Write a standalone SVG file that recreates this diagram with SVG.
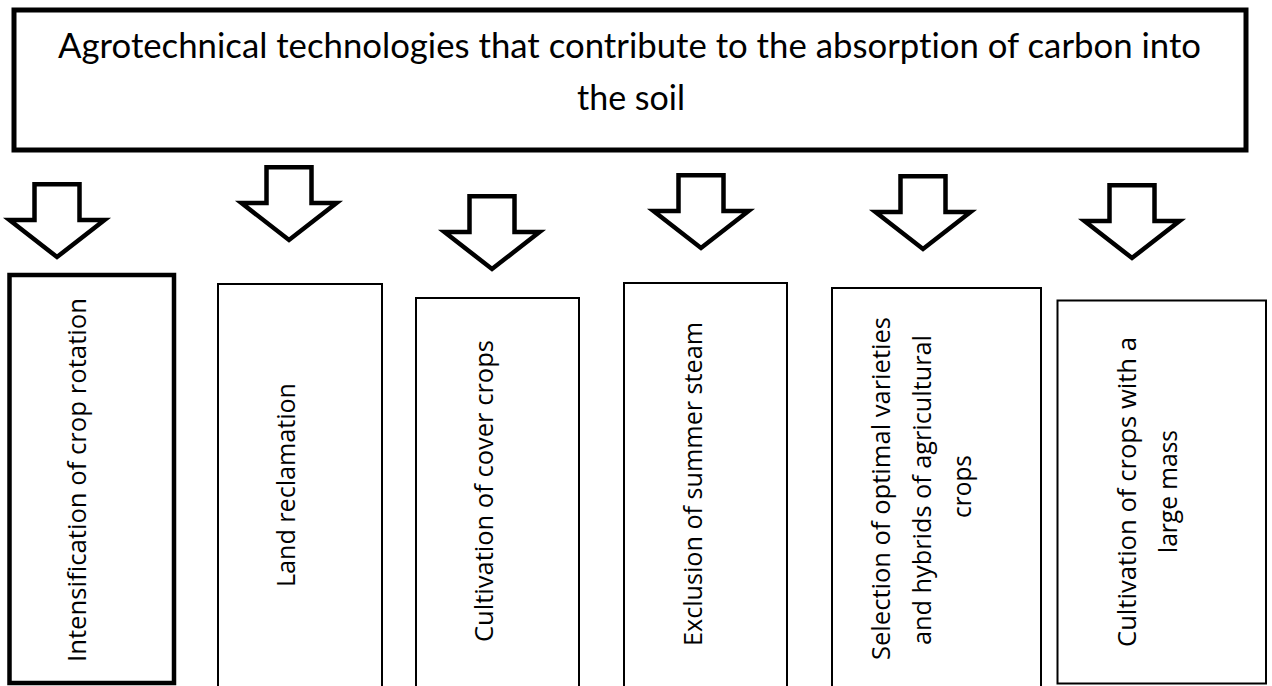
<svg xmlns="http://www.w3.org/2000/svg" xmlns:xlink="http://www.w3.org/1999/xlink" width="1272" height="686" viewBox="0 0 1272 686">
  <style>
    .title { font-family: Lato, "Open Sans", "Liberation Sans", sans-serif; font-size: 34px; fill: #000; text-anchor: middle; font-variant-ligatures: none; }
    .lbl { font-family: "Open Sans", "Noto Sans", "Liberation Sans", sans-serif; font-size: 26px; fill: #000; text-anchor: middle; font-variant-ligatures: none; }
    .box { fill: #fff; stroke: #000; stroke-width: 2; }
    .thick { stroke-width: 4.5; }
    .arrow { fill: #fff; stroke: #000; stroke-width: 4.5; stroke-linejoin: miter; stroke-miterlimit: 10; }
  </style>
  <defs>
    <path id="blockArrow" d="M -22.5 2.25 H 22.5 V 38 H 47.5 L 0 75 L -47.5 38 H -22.5 Z"/>
  </defs>
  <rect width="1272" height="686" fill="#fff"/>

  <g id="node-title">
    <rect x="14" y="10" width="1232" height="140" fill="#fff" stroke="#000" stroke-width="5"/>
    <text class="title" x="629.5" y="58" textLength="1143" lengthAdjust="spacingAndGlyphs">Agrotechnical technologies that contribute to the absorption of carbon into</text>
    <text class="title" x="631" y="110" textLength="108" lengthAdjust="spacingAndGlyphs">the soil</text>
  </g>

  <g id="connectors">
    <use xlink:href="#blockArrow" href="#blockArrow" class="arrow" x="57" y="182"/>
    <use xlink:href="#blockArrow" href="#blockArrow" class="arrow" x="289" y="165"/>
    <use xlink:href="#blockArrow" href="#blockArrow" class="arrow" x="492" y="194"/>
    <use xlink:href="#blockArrow" href="#blockArrow" class="arrow" x="701" y="173"/>
    <use xlink:href="#blockArrow" href="#blockArrow" class="arrow" x="923" y="174"/>
    <use xlink:href="#blockArrow" href="#blockArrow" class="arrow" x="1132" y="183"/>
  </g>

  <g id="node-1">
    <rect class="box thick" x="9.5" y="275" width="164.5" height="408"/>
    <text class="lbl" transform="translate(86,480) rotate(-90)" textLength="364" lengthAdjust="spacingAndGlyphs">Intensification of crop rotation</text>
  </g>

  <g id="node-2">
    <rect class="box" x="218" y="284" width="164" height="420"/>
    <text class="lbl" transform="translate(295,485) rotate(-90)" textLength="204" lengthAdjust="spacingAndGlyphs">Land reclamation</text>
  </g>

  <g id="node-3">
    <rect class="box" x="416" y="298" width="163" height="420"/>
    <text class="lbl" transform="translate(493,491) rotate(-90)" textLength="302" lengthAdjust="spacingAndGlyphs">Cultivation of cover crops</text>
  </g>

  <g id="node-4">
    <rect class="box" x="624" y="283" width="163" height="420"/>
    <text class="lbl" transform="translate(702,484) rotate(-90)" textLength="324" lengthAdjust="spacingAndGlyphs">Exclusion of summer steam</text>
  </g>

  <g id="node-5">
    <rect class="box" x="832" y="288" width="209" height="420"/>
    <text class="lbl" transform="translate(890,488.5) rotate(-90)" textLength="343" lengthAdjust="spacingAndGlyphs">Selection of optimal varieties</text>
    <text class="lbl" transform="translate(931,490) rotate(-90)" textLength="310" lengthAdjust="spacingAndGlyphs">and hybrids of agricultural</text>
    <text class="lbl" transform="translate(971,486.5) rotate(-90)" textLength="63" lengthAdjust="spacingAndGlyphs">crops</text>
  </g>

  <g id="node-6">
    <rect class="box" x="1057.5" y="300.5" width="208.5" height="383" stroke-width="2.7"/>
    <text class="lbl" transform="translate(1136,492) rotate(-90)" textLength="310" lengthAdjust="spacingAndGlyphs">Cultivation of crops with a</text>
    <text class="lbl" transform="translate(1177,491.5) rotate(-90)" textLength="123" lengthAdjust="spacingAndGlyphs">large mass</text>
  </g>
</svg>
